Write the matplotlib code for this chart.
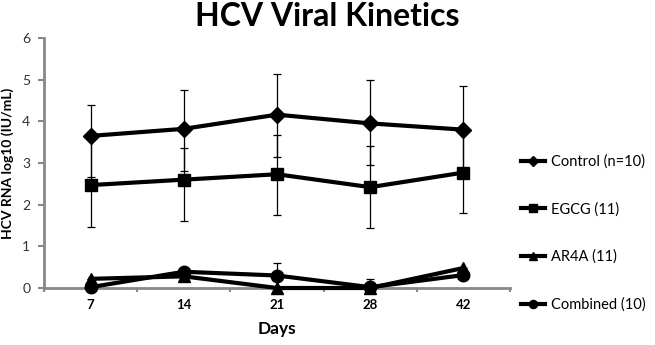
import matplotlib
matplotlib.use("Agg")
import matplotlib.pyplot as plt
import numpy as np

days = ["7", "14", "21", "28", "42"]
series_names = ["Control (n=10)", "EGCG (11)", "AR4A (11)", "Combined (10)"]
control = [3.65, 3.82, 4.16, 3.95, 3.80]
control_err_lo = [0.99, 1.01, 1.01, 1.01, 1.00]
control_err_hi = [0.73, 0.92, 0.98, 1.03, 1.05]
egcg = [2.47, 2.60, 2.73, 2.42, 2.77]
egcg_err_lo = [1.01, 1.00, 0.99, 0.99, 0.98]
egcg_err_hi = [1.18, 0.75, 0.93, 0.99, 1.00]
ar4a = [0.22, 0.28, 0.0, 0.0, 0.48]
ar4a_err_lo = [0.0, 0.0, 0.0, 0.0, 0.0]
ar4a_err_hi = [0.0, 0.0, 0.0, 0.0, 0.0]
combined = [0.02, 0.39, 0.30, 0.02, 0.31]
comb_err_lo = [0.0, 0.0, 0.0, 0.0, 0.0]
comb_err_hi = [0.0, 0.0, 0.31, 0.20, 0.0]
yticks = [0, 1, 2, 3, 4, 5, 6]

plt.rcParams['font.family'] = ['Lato', 'DejaVu Sans']

fig = plt.figure(figsize=(6.55, 3.45), dpi=100)
ax = fig.add_axes([0.0672, 0.1652, 0.7114, 0.7247])

x = np.arange(len(days))
data = [
    (control, control_err_lo, control_err_hi, 'D', 8.5),
    (egcg, egcg_err_lo, egcg_err_hi, 's', 8.5),
    (ar4a, ar4a_err_lo, ar4a_err_hi, '^', 8.5),
    (combined, comb_err_lo, comb_err_hi, 'o', 9),
]
handles = []
for (vals, lo, hi, mk, ms), name in zip(data, series_names):
    ax.errorbar(x, vals, yerr=[lo, hi], fmt='none', ecolor='black',
                elinewidth=0.9, capsize=3, capthick=0.9, zorder=2)
    h, = ax.plot(x, vals, color='black', lw=3, marker=mk, ms=ms,
                 mfc='black', mec='black', zorder=3, clip_on=False, label=name)
    handles.append(h)

ax.set_xlim(-0.5, 4.5)
ax.set_ylim(0, 6)
ax.set_yticks(yticks)
ax.set_yticklabels([str(v) for v in yticks], fontsize=10, color='#333333')
ax.set_xticks(x)
ax.set_xticklabels(days, fontsize=9.5, fontweight='bold')
ax.set_xticks(np.arange(-0.5, 4.6, 1.0), minor=True)
ax.tick_params(axis='x', which='major', length=0, pad=8)
ax.tick_params(axis='x', which='minor', length=3, width=1.5, color='#888888', direction='out')
ax.tick_params(axis='y', which='major', length=4, width=1.5, color='#888888', direction='out', pad=6)

for s in ['top', 'right']:
    ax.spines[s].set_visible(False)
for s in ['left', 'bottom']:
    ax.spines[s].set_color('#888888')
    ax.spines[s].set_linewidth(2)

ax.set_ylabel("HCV RNA log10 (IU/mL)", fontsize=10, fontweight='bold', labelpad=6)
ax.set_xlabel("Days", fontsize=12.5, fontweight='bold', labelpad=7)
fig.text(0.5, 0.995, "HCV Viral Kinetics", fontsize=23, fontweight='bold',
         ha='center', va='top')

leg = fig.legend(handles=handles, loc='upper left', bbox_to_anchor=(0.776, 0.59),
                 frameon=False, fontsize=10.5, labelspacing=2.28, handlelength=1.6,
                 handletextpad=0.45, markerscale=0.65)

fig.savefig("out.png", dpi=100)
